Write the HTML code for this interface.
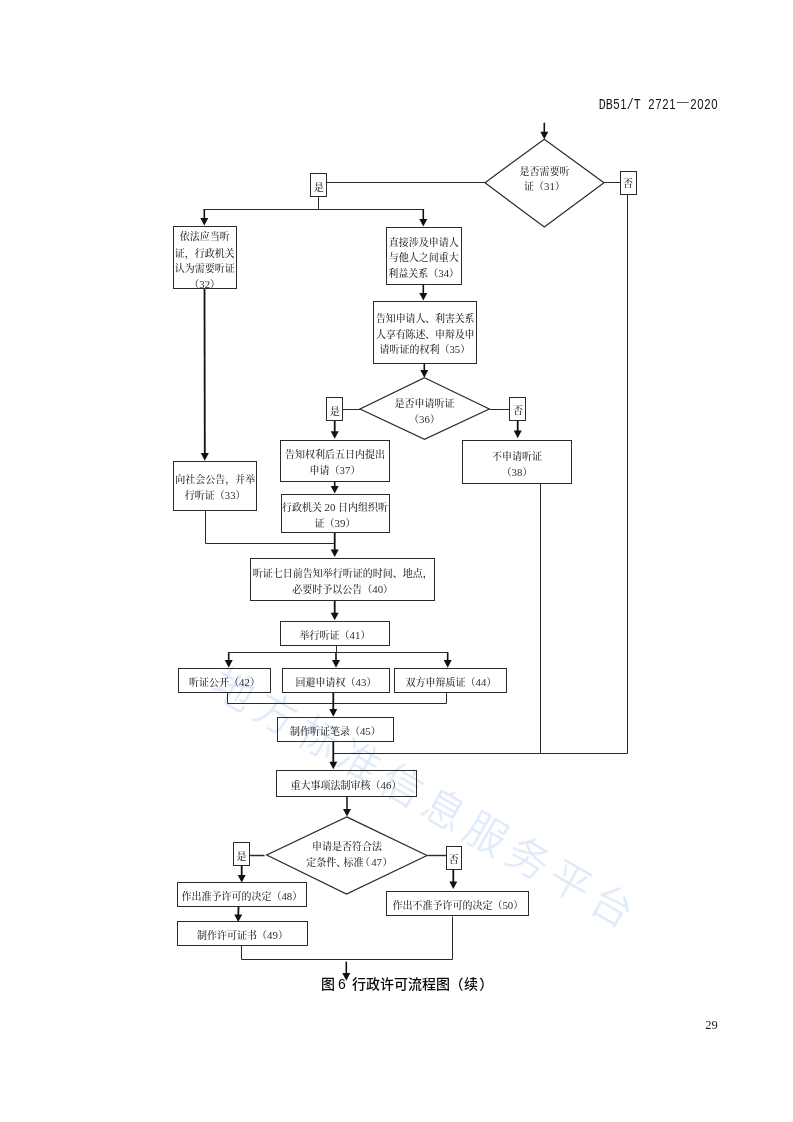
<!DOCTYPE html>
<html lang="zh-CN">
<head>
<meta charset="utf-8">
<title>DB51/T 2721—2020 图6 行政许可流程图（续）</title>
<style>
html,body{margin:0;padding:0;background:#fff;}
body{width:793px;height:1122px;overflow:hidden;position:relative;}
svg{position:absolute;left:0;top:0;display:block;will-change:transform;}
.t{font-family:"Liberation Serif","Noto Serif CJK SC",serif;fill:#2b2b2b;font-weight:500;}
.d{font-size:10.8px;}
.h{font-family:"Liberation Sans","Noto Sans CJK SC",sans-serif;fill:#0a0a0a;font-weight:500;}
.hm{font-family:"Liberation Mono","Noto Sans CJK SC",monospace;fill:#161616;}
.hd{font-family:"Liberation Sans",sans-serif;font-size:11.4px;letter-spacing:0.66px;}
.dash{font-family:"Noto Sans CJK SC",sans-serif;}
.wm{font-family:"Liberation Sans","Noto Sans CJK SC",sans-serif;font-weight:300;fill:#dde9f9;stroke:#dde9f9;stroke-width:0.3;letter-spacing:7.45px;filter:blur(0.45px);mix-blend-mode:multiply;}
</style>
</head>
<body>
<svg width="793" height="1122" viewBox="0 0 793 1122">
<rect x="0" y="0" width="793" height="1122" fill="#fff"/>
<line x1="544.30" y1="122.70" x2="544.30" y2="132.70" stroke="#111" stroke-width="1.6"/>
<polygon points="540.30,131.70 548.30,131.70 544.30,139.30" fill="#111"/>
<polyline points="604.50,182.50 620.50,182.50" fill="none" stroke="#2a2a2a" stroke-width="1"/>
<polyline points="627.50,194.50 627.50,753.50 333.50,753.50" fill="none" stroke="#2a2a2a" stroke-width="1"/>
<polyline points="326.50,182.50 485.50,182.50" fill="none" stroke="#2a2a2a" stroke-width="1"/>
<polyline points="318.50,196.50 318.50,209.50" fill="none" stroke="#2a2a2a" stroke-width="1"/>
<polyline points="204.50,209.50 423.50,209.50" fill="none" stroke="#2a2a2a" stroke-width="1"/>
<line x1="204.30" y1="209.00" x2="204.30" y2="218.90" stroke="#111" stroke-width="1.6"/>
<polygon points="200.30,217.90 208.30,217.90 204.30,225.50" fill="#111"/>
<line x1="423.30" y1="209.00" x2="423.30" y2="219.90" stroke="#111" stroke-width="1.6"/>
<polygon points="419.30,218.90 427.30,218.90 423.30,226.50" fill="#111"/>
<line x1="204.50" y1="288.30" x2="204.80" y2="454.10" stroke="#111" stroke-width="1.8"/>
<polygon points="200.80,453.10 208.80,453.10 204.80,460.70" fill="#111"/>
<polyline points="205.50,510.50 205.50,543.50 334.50,543.50" fill="none" stroke="#2a2a2a" stroke-width="1"/>
<line x1="423.30" y1="284.30" x2="423.30" y2="293.90" stroke="#111" stroke-width="1.6"/>
<polygon points="419.30,292.90 427.30,292.90 423.30,300.50" fill="#111"/>
<line x1="424.30" y1="363.70" x2="424.30" y2="371.10" stroke="#111" stroke-width="1.6"/>
<polygon points="420.30,370.10 428.30,370.10 424.30,377.70" fill="#111"/>
<polyline points="342.50,409.50 360.50,409.50" fill="none" stroke="#2a2a2a" stroke-width="1"/>
<polyline points="489.50,409.50 510.50,409.50" fill="none" stroke="#2a2a2a" stroke-width="1"/>
<line x1="334.70" y1="420.70" x2="334.70" y2="432.20" stroke="#111" stroke-width="1.8"/>
<polygon points="330.70,431.20 338.70,431.20 334.70,438.80" fill="#111"/>
<line x1="517.70" y1="420.00" x2="517.70" y2="431.60" stroke="#111" stroke-width="1.8"/>
<polygon points="513.70,430.60 521.70,430.60 517.70,438.20" fill="#111"/>
<line x1="334.70" y1="481.00" x2="334.70" y2="486.90" stroke="#111" stroke-width="1.6"/>
<polygon points="330.70,485.90 338.70,485.90 334.70,493.50" fill="#111"/>
<line x1="334.70" y1="532.30" x2="334.70" y2="550.40" stroke="#111" stroke-width="1.8"/>
<polygon points="330.70,549.40 338.70,549.40 334.70,557.00" fill="#111"/>
<line x1="334.70" y1="600.50" x2="334.70" y2="613.70" stroke="#111" stroke-width="1.8"/>
<polygon points="330.70,612.70 338.70,612.70 334.70,620.30" fill="#111"/>
<polyline points="336.50,645.50 336.50,652.50" fill="none" stroke="#2a2a2a" stroke-width="1"/>
<polyline points="228.50,652.50 447.50,652.50" fill="none" stroke="#2a2a2a" stroke-width="1"/>
<line x1="228.70" y1="652.30" x2="228.70" y2="661.10" stroke="#111" stroke-width="1.6"/>
<polygon points="224.70,660.10 232.70,660.10 228.70,667.70" fill="#111"/>
<line x1="336.00" y1="652.30" x2="336.00" y2="661.10" stroke="#111" stroke-width="1.6"/>
<polygon points="332.00,660.10 340.00,660.10 336.00,667.70" fill="#111"/>
<line x1="447.70" y1="652.30" x2="447.70" y2="661.10" stroke="#111" stroke-width="1.6"/>
<polygon points="443.70,660.10 451.70,660.10 447.70,667.70" fill="#111"/>
<polyline points="227.50,692.50 227.50,703.50 446.50,703.50 446.50,692.50" fill="none" stroke="#2a2a2a" stroke-width="1"/>
<line x1="333.30" y1="692.30" x2="333.30" y2="710.10" stroke="#111" stroke-width="1.8"/>
<polygon points="329.30,709.10 337.30,709.10 333.30,716.70" fill="#111"/>
<line x1="333.30" y1="741.30" x2="333.30" y2="762.70" stroke="#111" stroke-width="1.8"/>
<polygon points="329.30,761.70 337.30,761.70 333.30,769.30" fill="#111"/>
<polyline points="540.50,483.50 540.50,753.50" fill="none" stroke="#2a2a2a" stroke-width="1"/>
<line x1="347.00" y1="796.00" x2="347.00" y2="810.00" stroke="#111" stroke-width="1.5"/>
<polygon points="343.00,809.00 351.00,809.00 347.00,816.60" fill="#111"/>
<polyline points="249.50,855.50 264.50,855.50" fill="none" stroke="#2a2a2a" stroke-width="1.5"/>
<polyline points="427.50,855.50 446.50,855.50" fill="none" stroke="#2a2a2a" stroke-width="1.4"/>
<line x1="241.70" y1="865.00" x2="241.70" y2="875.90" stroke="#111" stroke-width="1.8"/>
<polygon points="237.70,874.90 245.70,874.90 241.70,882.50" fill="#111"/>
<line x1="453.30" y1="869.00" x2="453.30" y2="882.40" stroke="#111" stroke-width="1.8"/>
<polygon points="449.30,881.40 457.30,881.40 453.30,889.00" fill="#111"/>
<line x1="238.60" y1="906.00" x2="238.20" y2="915.40" stroke="#111" stroke-width="1.8"/>
<polygon points="234.20,914.40 242.20,914.40 238.20,922.00" fill="#111"/>
<polyline points="241.50,945.50 241.50,959.50 452.50,959.50 452.50,916.50" fill="none" stroke="#2a2a2a" stroke-width="1"/>
<line x1="346.30" y1="961.70" x2="346.30" y2="974.10" stroke="#111" stroke-width="1.6"/>
<polygon points="342.30,973.10 350.30,973.10 346.30,980.70" fill="#111"/>
<polygon points="544.30,139.20 604.00,182.70 544.30,227.00 485.00,182.70" fill="#fff" stroke="#2a2a2a" stroke-width="1.2"/>
<rect x="620.50" y="171.50" width="16.00" height="23.00" fill="#fff" stroke="#2a2a2a" stroke-width="1"/>
<rect x="310.50" y="173.50" width="16.00" height="23.00" fill="#fff" stroke="#2a2a2a" stroke-width="1"/>
<rect x="173.50" y="226.50" width="63.00" height="62.00" fill="#fff" stroke="#2a2a2a" stroke-width="1"/>
<rect x="173.50" y="461.50" width="83.00" height="49.00" fill="#fff" stroke="#2a2a2a" stroke-width="1"/>
<rect x="386.50" y="227.50" width="75.00" height="57.00" fill="#fff" stroke="#2a2a2a" stroke-width="1"/>
<rect x="373.50" y="301.50" width="103.00" height="62.00" fill="#fff" stroke="#2a2a2a" stroke-width="1"/>
<polygon points="424.50,377.70 489.30,409.00 424.50,439.30 360.00,409.00" fill="#fff" stroke="#2a2a2a" stroke-width="1.2"/>
<rect x="326.50" y="397.50" width="16.00" height="23.00" fill="#fff" stroke="#2a2a2a" stroke-width="1"/>
<rect x="509.50" y="397.50" width="16.00" height="23.00" fill="#fff" stroke="#2a2a2a" stroke-width="1"/>
<rect x="280.50" y="440.50" width="109.00" height="41.00" fill="#fff" stroke="#2a2a2a" stroke-width="1"/>
<rect x="281.50" y="494.50" width="108.00" height="38.00" fill="#fff" stroke="#2a2a2a" stroke-width="1"/>
<rect x="250.50" y="558.50" width="184.00" height="42.00" fill="#fff" stroke="#2a2a2a" stroke-width="1"/>
<rect x="280.50" y="621.50" width="109.00" height="24.00" fill="#fff" stroke="#2a2a2a" stroke-width="1"/>
<rect x="178.50" y="668.50" width="92.00" height="24.00" fill="#fff" stroke="#2a2a2a" stroke-width="1"/>
<rect x="282.50" y="668.50" width="107.00" height="24.00" fill="#fff" stroke="#2a2a2a" stroke-width="1"/>
<rect x="394.50" y="668.50" width="112.00" height="24.00" fill="#fff" stroke="#2a2a2a" stroke-width="1"/>
<rect x="277.50" y="717.50" width="116.00" height="24.00" fill="#fff" stroke="#2a2a2a" stroke-width="1"/>
<rect x="462.50" y="440.50" width="109.00" height="43.00" fill="#fff" stroke="#2a2a2a" stroke-width="1"/>
<rect x="276.50" y="770.50" width="140.00" height="26.00" fill="#fff" stroke="#2a2a2a" stroke-width="1"/>
<polygon points="346.70,816.90 427.00,855.50 346.50,894.00 266.70,855.00" fill="#fff" stroke="#2a2a2a" stroke-width="1.2"/>
<rect x="233.50" y="842.50" width="16.00" height="23.00" fill="#fff" stroke="#2a2a2a" stroke-width="1"/>
<rect x="446.50" y="846.50" width="15.00" height="23.00" fill="#fff" stroke="#2a2a2a" stroke-width="1"/>
<rect x="177.50" y="882.50" width="129.00" height="24.00" fill="#fff" stroke="#2a2a2a" stroke-width="1"/>
<rect x="177.50" y="921.50" width="130.00" height="24.00" fill="#fff" stroke="#2a2a2a" stroke-width="1"/>
<rect x="386.50" y="891.50" width="142.00" height="24.00" fill="#fff" stroke="#2a2a2a" stroke-width="1"/>
<text class="t" x="544.50" y="174.50" font-size="10.0" text-anchor="middle">是否需要听</text>
<text class="t" x="544.50" y="190.00" font-size="10.0" text-anchor="middle">证（<tspan class="d">31</tspan>）</text>
<text class="t" x="628.00" y="186.80" font-size="10.0" text-anchor="middle">否</text>
<text class="t" x="318.70" y="191.10" font-size="10.0" text-anchor="middle">是</text>
<text class="t" x="204.70" y="240.00" font-size="10.0" text-anchor="middle">依法应当听</text>
<text class="t" x="204.70" y="256.80" font-size="10.0" text-anchor="middle">证，行政机关</text>
<text class="t" x="204.70" y="272.30" font-size="10.0" text-anchor="middle">认为需要听证</text>
<text class="t" x="204.70" y="288.00" font-size="10.0" text-anchor="middle">（<tspan class="d">32</tspan>）</text>
<text class="t" x="215.20" y="483.10" font-size="10.0" text-anchor="middle">向社会公告，并举</text>
<text class="t" x="215.20" y="498.80" font-size="10.0" text-anchor="middle">行听证（<tspan class="d">33</tspan>）</text>
<text class="t" x="423.70" y="245.80" font-size="10.0" text-anchor="middle">直接涉及申请人</text>
<text class="t" x="423.70" y="260.60" font-size="10.0" text-anchor="middle">与他人之间重大</text>
<text class="t" x="423.70" y="276.80" font-size="10.0" text-anchor="middle">利益关系（<tspan class="d">34</tspan>）</text>
<text class="t" x="425.30" y="321.80" font-size="10.0" text-anchor="middle" textLength="98.60" lengthAdjust="spacing">告知申请人、利害关系</text>
<text class="t" x="425.30" y="337.80" font-size="10.0" text-anchor="middle" textLength="98.60" lengthAdjust="spacing">人享有陈述、申辩及申</text>
<text class="t" x="424.80" y="353.30" font-size="10.0" text-anchor="middle">请听证的权利（<tspan class="d">35</tspan>）</text>
<text class="t" x="424.50" y="406.60" font-size="10.0" text-anchor="middle">是否申请听证</text>
<text class="t" x="424.50" y="422.80" font-size="10.0" text-anchor="middle">（<tspan class="d">36</tspan>）</text>
<text class="t" x="334.80" y="414.60" font-size="10.0" text-anchor="middle">是</text>
<text class="t" x="518.00" y="414.30" font-size="10.0" text-anchor="middle">否</text>
<text class="t" x="335.00" y="458.10" font-size="10.0" text-anchor="middle">告知权利后五日内提出</text>
<text class="t" x="335.00" y="473.80" font-size="10.0" text-anchor="middle">申请（<tspan class="d">37</tspan>）</text>
<text class="t" x="335.00" y="511.30" font-size="10.0" text-anchor="middle">行政机关 <tspan class="d">20</tspan> 日内组织听</text>
<text class="t" x="335.00" y="527.30" font-size="10.0" text-anchor="middle">证（<tspan class="d">39</tspan>）</text>
<text class="t" x="342.70" y="576.80" font-size="10.0" text-anchor="middle">听证七日前告知举行听证的时间、地点，</text>
<text class="t" x="342.70" y="592.80" font-size="10.0" text-anchor="middle">必要时予以公告（<tspan class="d">40</tspan>）</text>
<text class="t" x="335.00" y="638.80" font-size="10.0" text-anchor="middle">举行听证（<tspan class="d">41</tspan>）</text>
<text class="t" x="224.50" y="685.80" font-size="10.0" text-anchor="middle">听证公开（<tspan class="d">42</tspan>）</text>
<text class="t" x="336.00" y="685.80" font-size="10.0" text-anchor="middle">回避申请权（<tspan class="d">43</tspan>）</text>
<text class="t" x="451.00" y="685.80" font-size="10.0" text-anchor="middle">双方申辩质证（<tspan class="d">44</tspan>）</text>
<text class="t" x="335.30" y="734.80" font-size="10.0" text-anchor="middle">制作听证笔录（<tspan class="d">45</tspan>）</text>
<text class="t" x="517.00" y="459.90" font-size="10.0" text-anchor="middle">不申请听证</text>
<text class="t" x="517.00" y="475.80" font-size="10.0" text-anchor="middle">（<tspan class="d">38</tspan>）</text>
<text class="t" x="346.00" y="788.80" font-size="10.0" text-anchor="middle">重大事项法制审核（<tspan class="d">46</tspan>）</text>
<text class="t" x="347.00" y="849.80" font-size="10.0" text-anchor="middle">申请是否符合法</text>
<text class="t" y="865.80" font-size="10.0"><tspan x="306.3">定条件</tspan><tspan x="336.3">、</tspan><tspan x="343.6">标准</tspan><tspan x="360">（</tspan><tspan x="371.2" class="d">47</tspan><tspan x="382.5">）</tspan></text>
<text class="t" x="241.50" y="859.80" font-size="10.0" text-anchor="middle">是</text>
<text class="t" x="453.80" y="863.30" font-size="10.0" text-anchor="middle">否</text>
<text class="t" x="241.80" y="899.80" font-size="10.0" text-anchor="middle">作出准予许可的决定（<tspan class="d">48</tspan>）</text>
<text class="t" x="242.50" y="938.80" font-size="10.0" text-anchor="middle">制作许可证书（<tspan class="d">49</tspan>）</text>
<text class="t" x="457.80" y="908.80" font-size="10.0" text-anchor="middle">作出不准予许可的决定（<tspan class="d">50</tspan>）</text>
<g transform="translate(234,689) rotate(29.77)">
<text class="wm" x="-20.5" y="15" font-size="41">地方标准信息服务平台</text>
</g>
<text class="hm" transform="translate(598.7,108.7) scale(1,1.22)" x="0" y="0" font-size="11.667">DB<tspan class="hd" dx="0.5">51</tspan><tspan dx="-0.5">/T </tspan><tspan class="hd" dx="0.5">2721</tspan><tspan class="dash" font-size="14" dx="-0.5">—</tspan><tspan class="hd" dx="0.5">2020</tspan></text>
<text class="h" y="988.6" font-size="14"><tspan x="321">图</tspan><tspan x="335"> </tspan><tspan x="338">6</tspan><tspan x="345"> </tspan><tspan x="352">行政许可流程图</tspan><tspan x="449.5">（</tspan><tspan x="464">续</tspan><tspan x="479.2">）</tspan></text>
<text class="t" x="705.2" y="1029" font-size="12.5" style="fill:#222">29</text>
</svg>
</body>
</html>
